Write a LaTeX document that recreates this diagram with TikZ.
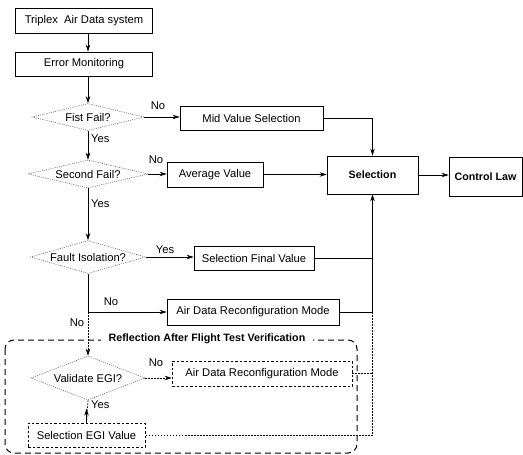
\documentclass[tikz,border=0pt]{standalone}
\usepackage{fontspec}
\setmainfont{Liberation Sans}
\usetikzlibrary{shapes.geometric,arrows.meta}
\begin{document}
\begin{tikzpicture}[x=1pt,y=-1pt,
  font=\fontsize{11.2}{13}\selectfont,
  box/.style={draw,line width=0.8pt,rectangle,inner sep=0pt},
  dbox/.style={draw,line width=0.7pt,dash pattern=on 2.5pt off 2pt,rectangle,inner sep=0pt},
  dia/.style={draw=black!60,line width=0.6pt,dash pattern=on 1pt off 1.2pt,shape=diamond,aspect=4.5,inner sep=0pt},
  arr/.style={line width=0.7pt,-{Stealth[length=7pt,width=4.5pt]}},
  con/.style={line width=0.7pt},
  dotl/.style={line width=0.7pt,dash pattern=on 1.5pt off 1.5pt},
  lab/.style={inner sep=0pt},
  bf/.style={font=\fontsize{10.7}{12}\selectfont\bfseries}
]
\useasboundingbox (0,0) rectangle (523,455);

% nodes
\node[box,minimum width=137,minimum height=25] (tri) at (84,20.5) {Triplex\ \ Air Data system};
\node[box,minimum width=137,minimum height=24] (err) at (84,64) {Error Monitoring};
\node[dia,minimum width=112,minimum height=27] (fis) at (88,117) {Fist Fail?};
\node[box,minimum width=143,minimum height=24] (mid) at (251.5,118.5) {Mid Value Selection};
\node[dia,minimum width=120,minimum height=28] (sec) at (88,174) {Second Fail?};
\node[box,minimum width=96,minimum height=25] (avg) at (215,174.5) {Average Value};
\node[box,bf,minimum width=91,minimum height=38] (sel) at (372.5,175) {Selection};
\node[box,bf,minimum width=73,minimum height=39] (ctl) at (485.5,176.5) {Control Law};
\node[dia,minimum width=115,minimum height=33] (fau) at (88,257) {Fault Isolation?};
\node[box,minimum width=120,minimum height=24] (sfv) at (254,258) {Selection Final Value};
\node[box,minimum width=172,minimum height=26] (adr) at (253,312) {Air Data Reconfiguration Mode};
\node[dia,minimum width=114,minimum height=44] (ve) at (88,378) {Validate EGI?};
\node[dbox,minimum width=180,minimum height=25] (adr2) at (262,373.5) {Air Data Reconfiguration Mode};
\node[dbox,minimum width=117,minimum height=24] (egi) at (86.5,435) {Selection EGI Value};

% group frame
\draw[line width=1pt,dash pattern=on 6pt off 4pt,rounded corners=9pt] (5,340) rectangle (357,453);
\node[bf,fill=white,inner xsep=8pt,inner ysep=1pt] (grp) at (207,339) {Reflection After Flight Test Verification};

% connectors
\draw[arr] (tri.south -| fis.north) -- (err.north -| fis.north);
\draw[arr] (err.south -| fis.north) -- (fis.north);
\draw[arr] (fis.east) -- (fis.east -| mid.west);
\node[lab] (l1) at (158,106) {No};
\draw[arr] (mid.east) -| (sel.north);
\draw[arr] (fis.south) -- (sec.north);
\node[lab,anchor=west] (l2) at (91,139) {Yes};
\draw[arr] (sec.east) -- (sec.east -| avg.west);
\node[lab] (l3) at (156,160) {No};
\draw[arr] (avg.east) -- (avg.east -| sel.west);
\draw[arr] (sel.east) -- (sel.east -| ctl.west);
\draw[arr] (sec.south) -- (fau.north);
\node[lab,anchor=west] (l4) at (91,204) {Yes};
\draw[arr] (fau.east) -- (fau.east -| sfv.west);
\node[lab] (l5) at (165,250) {Yes};
\draw[con] (sfv.east) -- (sfv.east -| sel.south);
\draw[arr] (adr.east) -| (sel.south);
\coordinate (j) at (fau.south |- adr.west);
\draw[arr] (fau.south) -- (j) -- (adr.west);
\node[lab] (l6) at (111,302) {No};
\draw[dotl,-{Stealth[length=7pt,width=4.5pt]}] (j) -- (ve.north);
\node[lab] (l7) at (77,323) {No};
\draw[dotl,-{Stealth[length=7pt,width=4.5pt]}] (ve.east) -- (ve.east -| adr2.west);
\node[lab] (l8) at (156,363) {No};
\coordinate (v) at (sel.south |- adr.east);
\draw[dotl] (v) -- (v |- egi.east) -- (egi.east);
\draw[dotl] (adr2.east) -- (adr2.east -| v);
\draw[dotl] (ve.south) -- (egi.north);
\draw[arr] (egi.north) -- ++(0,-14);
\node[lab,anchor=west] (l9) at (91,405) {Yes};
\end{tikzpicture}
\end{document}
